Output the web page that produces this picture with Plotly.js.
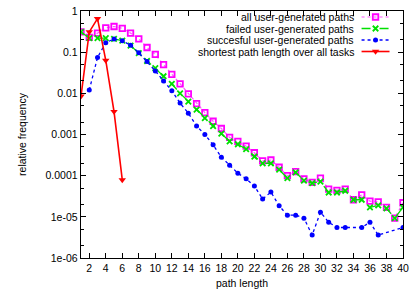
<!DOCTYPE html>
<html>
<head>
<meta charset="utf-8">
<script src="https://cdn.plot.ly/plotly-3.0.1.min.js"></script>
<style>html,body{margin:0;padding:0;background:#fff;}#chart{width:414px;height:293px;}</style>
</head>
<body>
<div id="chart"></div>
<script>
// ---- data ----
const pathLength = [1,2,3,4,5,6,7,8,9,10,11,12,13,14,15,16,17,18,19,20,21,22,23,24,25,26,27,28,29,30,31,32,33,34,35,36,37,38,39,40];
const allPaths = [0.31,0.23,0.29,0.39,0.42,0.38,0.29,0.21,0.13,0.088,0.05,0.029,0.017,0.0097,0.0056,0.0034,0.0021,0.0014,0.00085,0.00068,0.00052,0.00036,0.00023,0.00024,0.00016,0.0001,0.000126,0.000084,0.000069,0.000087,0.000047,0.000044,0.000047,0.000026,0.000034,0.000024,0.000023,0.000017,0.0000093,0.000022];
const failedPaths = [0.31,0.22,0.22,0.22,0.21,0.19,0.145,0.095,0.061,0.041,0.026,0.017,0.010,0.0063,0.0040,0.0025,0.0016,0.00105,0.00068,0.00058,0.00044,0.00029,0.0002,0.0002,0.00014,0.000087,0.00012,0.000076,0.000066,0.000072,0.000039,0.000039,0.000043,0.000026,0.000026,0.000017,0.000019,0.000016,0.0000093,0.000017];
const successfulPaths = [null,0.012,0.074,0.17,0.21,0.19,0.147,0.097,0.059,0.035,0.020,0.0115,0.0058,0.0033,0.0016,0.001,0.00056,0.00028,0.00018,0.000115,0.000084,0.000056,0.000027,0.00004,0.0000185,0.000011,0.000011,0.0000093,0.0000036,0.000013,0.0000074,0.0000055,0.0000055,null,0.0000055,0.0000074,0.0000036,null,null,0.0000055];
const shortestX = [1,2,3,4,5,6];
const shortestPaths = [0.0085,0.31,0.65,0.063,0.0036,0.000079];
const seriesNames = ['all user-generated paths','failed user-generated paths','succesful user-generated paths','shortest path length over all tasks'];
const xTickVals = [2,4,6,8,10,12,14,16,18,20,22,24,26,28,30,32,34,36,38,40];
const yTickVals = [1,0.1,0.01,0.001,0.0001,0.00001,0.000001];
const yTickText = ['1','0.1','0.01','0.001','0.0001','1e-05','1e-06'];

// ---- styles ----
const styles = [
  {line:{color:'#ff55ff',width:1.2,dash:'dot'}, marker:{symbol:'square-open',size:5.5,color:'#ff00ff',line:{width:1.8,color:'#ff00ff'}}},
  {line:{color:'#00e000',width:1.3,dash:'dash'}, marker:{symbol:'x-thin-open',size:5.5,color:'#00e000',line:{width:1.8,color:'#00e000'}}},
  {line:{color:'#0000ff',width:1.3,dash:'dot'}, marker:{symbol:'circle',size:5,color:'#0000ff'}},
  {line:{color:'#ff0000',width:1.6}, marker:{symbol:'triangle-down',size:6.5,color:'#ff0000'}}
];
const seriesX = [pathLength,pathLength,pathLength,shortestX];
const seriesY = [allPaths,failedPaths,successfulPaths,shortestPaths];

const traces = seriesY.map((ys,i)=>({
  x: seriesX[i], y: ys, type:'scatter', mode:'lines+markers', name: seriesNames[i],
  line: styles[i].line, marker: styles[i].marker, connectgaps:true, showlegend:false, cliponaxis:true
}));

// ---- custom legend (text right, sample on the right, gnuplot style) ----
const legRowY = [17, 28.5, 40, 51.5];
const legTextX = 356, legLine = [362, 390], legMark = 376;
const annotations = [];
seriesNames.forEach((n,i)=>{
  traces.push({x:legLine, y:[legRowY[i],legRowY[i]], xaxis:'x2', yaxis:'y2', type:'scatter', mode:'lines', line:styles[i].line, showlegend:false, hoverinfo:'skip'});
  traces.push({x:[legMark], y:[legRowY[i]], xaxis:'x2', yaxis:'y2', type:'scatter', mode:'markers', marker:styles[i].marker, showlegend:false, hoverinfo:'skip'});
  annotations.push({xref:'x2', yref:'y2', x:legTextX, y:legRowY[i], text:n, showarrow:false, xanchor:'right', yanchor:'middle', font:{size:10.5, color:'#000'}});
});

const font = {family:'"Liberation Sans", Arial, sans-serif', size:10.5, color:'#000'};
const layout = {
  width:414, height:293,
  margin:{l:81, r:10.5, t:11, b:35, pad:0},
  paper_bgcolor:'#fff', plot_bgcolor:'#fff',
  font: font,
  showlegend:false,
  xaxis:{
    range:[1,40], tickmode:'array', tickvals:xTickVals, ticks:'inside', ticklen:5, tickwidth:1, tickcolor:'#000',
    showline:true, linecolor:'#000', linewidth:1.3, mirror:'allticks', showgrid:false, zeroline:false,
    title:{text:'path length', font:{size:10.5}, standoff:6}, tickfont:{size:10.5}
  },
  yaxis:{
    type:'log', range:[-6,0], tickmode:'array', tickvals:yTickVals, ticktext:yTickText, ticks:'inside', ticklen:5, tickwidth:1, tickcolor:'#000',
    showline:true, linecolor:'#000', linewidth:1.3, mirror:'allticks', showgrid:false, zeroline:false,
    minor:{dtick:'D2', ticks:'inside', ticklen:3, tickcolor:'#000', showgrid:false},
    title:{text:'relative frequency', font:{size:10.5}, standoff:16}, tickfont:{size:10.5}
  },
  xaxis2:{overlaying:'x', anchor:'y2', range:[81,403.5], visible:false, fixedrange:true},
  yaxis2:{overlaying:'y', anchor:'x2', range:[258,11], visible:false, fixedrange:true},
  annotations: annotations
};
Plotly.newPlot('chart', traces, layout, {displayModeBar:false, staticPlot:true});
</script>
</body>
</html>
